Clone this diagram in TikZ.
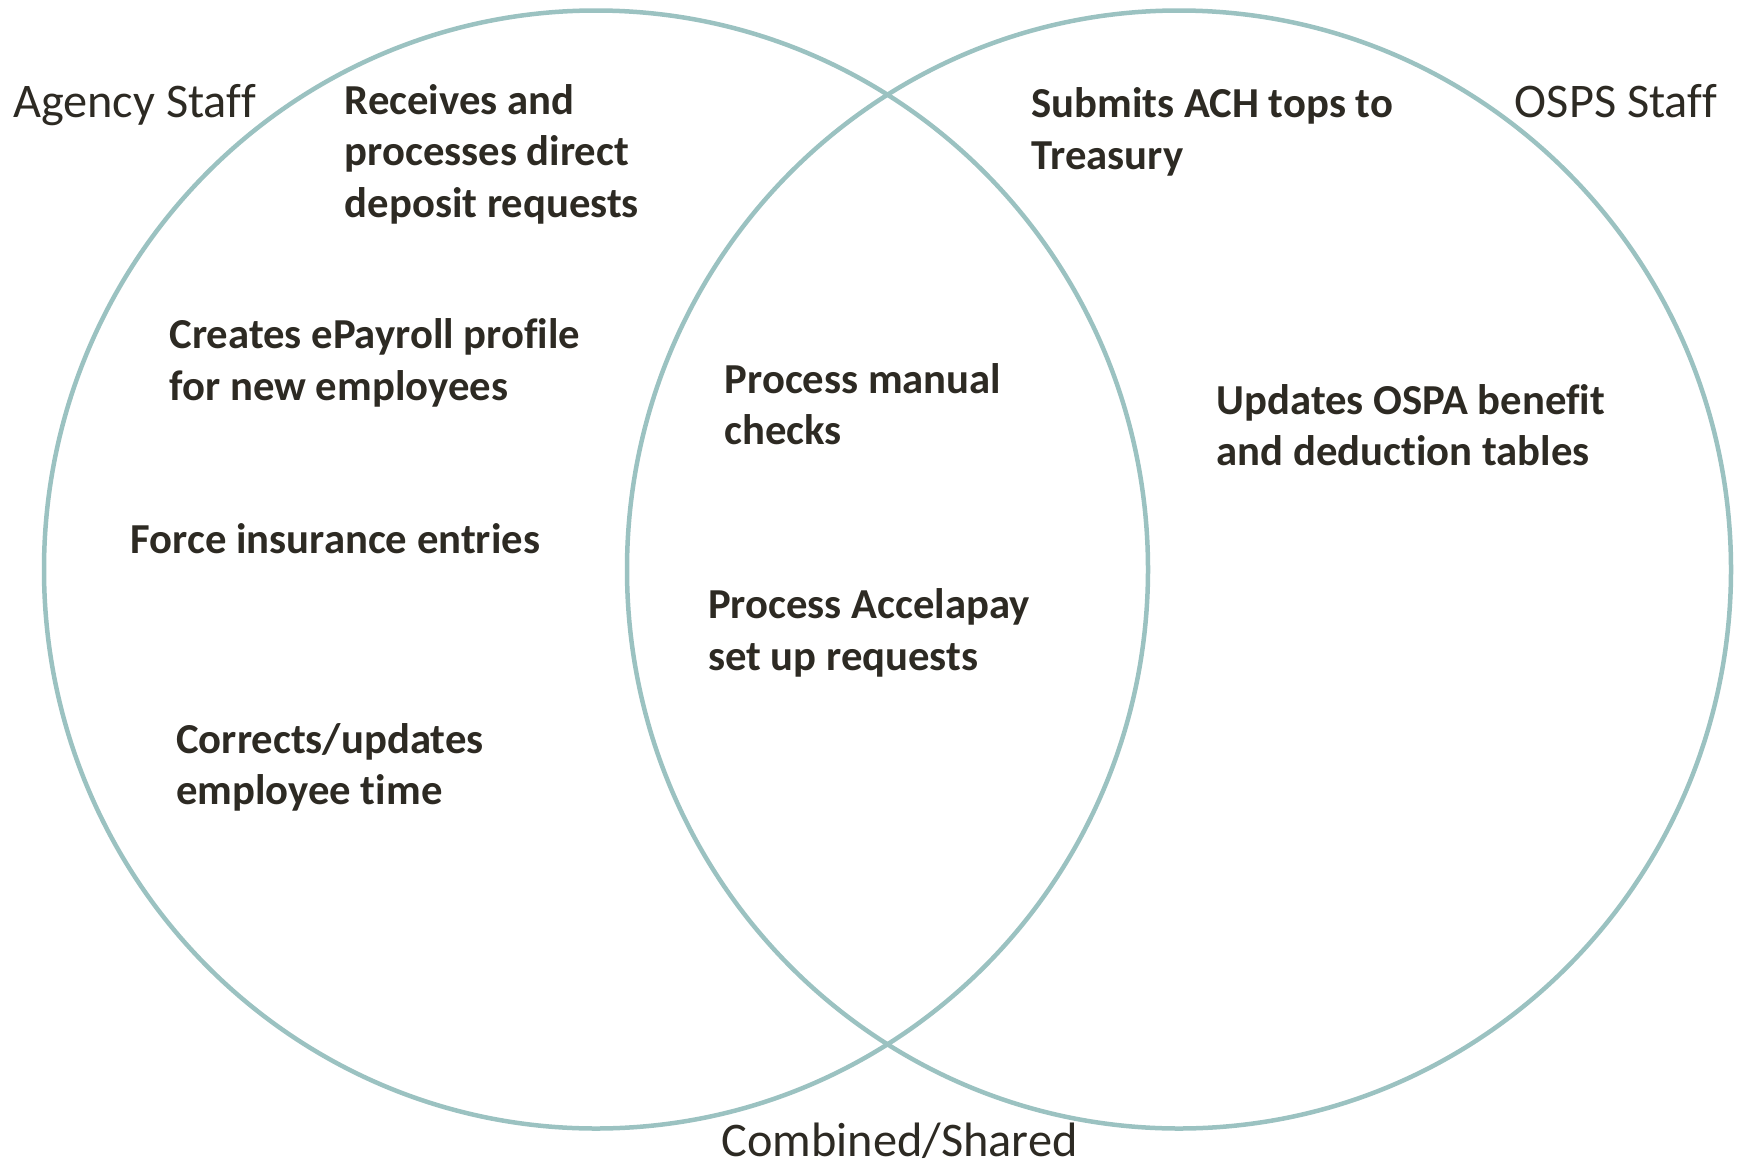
\documentclass[tikz,border=0pt]{standalone}
\usepackage{fontspec}
\setmainfont{Carlito}[Ligatures=NoCommon]
\definecolor{ring}{RGB}{155,194,193}
\definecolor{ink}{RGB}{45,42,35}
\begin{document}
\begin{tikzpicture}[x=1pt,y=-1pt,
  ringline/.style={draw=ring,line width=4.5pt},
  item/.style={inner sep=0pt,anchor=base west,align=left,text=ink,font=\fontsize{42.7}{51.5}\selectfont\bfseries},
  label/.style={inner sep=0pt,text=ink,font=\fontsize{48.3}{52}\selectfont}]
\useasboundingbox (0,0) rectangle (1737,1165);
\path[ringline] (596,569.5) ellipse [x radius=552,y radius=559];
\path[ringline] (1179,569.5) ellipse [x radius=552,y radius=559];
\node[label,anchor=base west] (agency) at (13,117) {Agency Staff};
\node[label,anchor=base east] (osps) at (1717,117) {OSPS Staff};
\node[label,anchor=base] (shared) at (899.5,1156) {Combined/Shared};
\node[item] (recv) at (344.5,217) {Receives and\\processes direct\\deposit requests};
\node[item] (create) at (169.5,400) {Creates ePayroll profile\\for new employees};
\node[item] (force) at (130.7,553.5) {Force insurance entries};
\node[item] (correct) at (176.1,804.5) {Corrects/updates\\employee time};
\node[item] (manual) at (724.5,444.5) {Process manual\\checks};
\node[item] (accel) at (707.9,670) {Process Accelapay\\set up requests};
\node[item] (ach) at (1031.4,169) {Submits ACH tops to\\Treasury};
\node[item] (ospa) at (1216.4,465.5) {Updates OSPA benefit\\and deduction tables};
\end{tikzpicture}
\end{document}
